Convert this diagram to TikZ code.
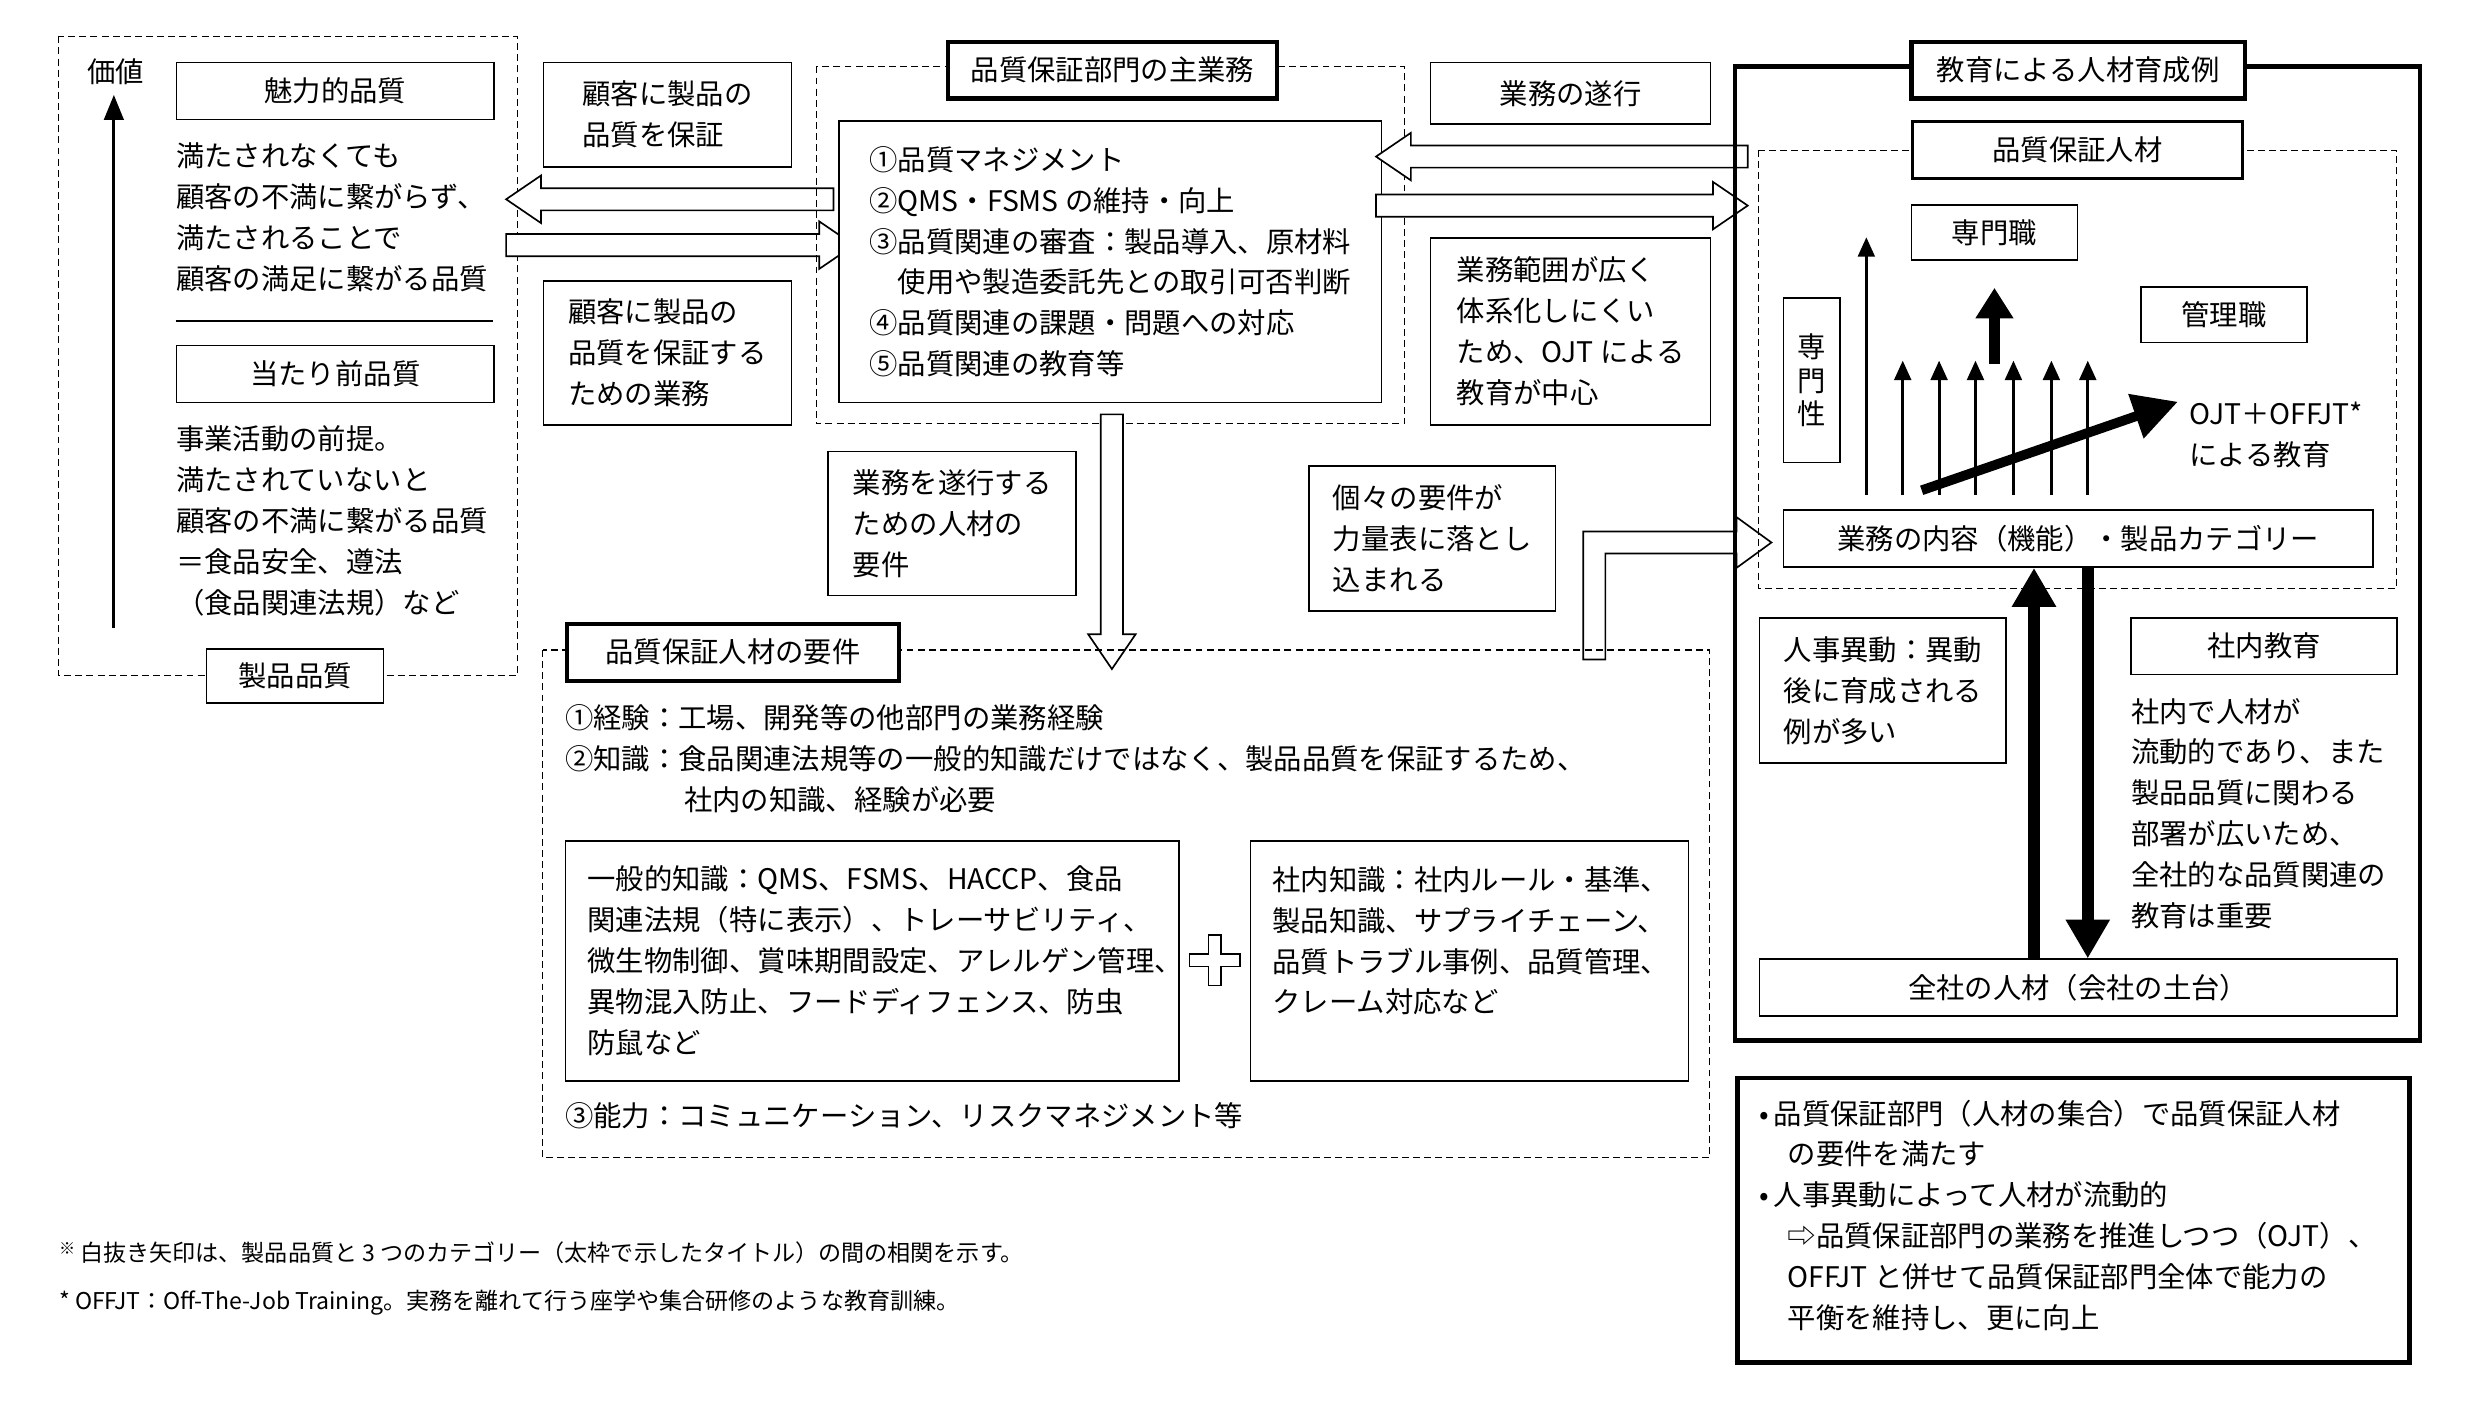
\documentclass[tikz,border=0pt]{standalone}
\usepackage{fontspec}
\setmainfont{Noto Sans CJK JP}
\usetikzlibrary{arrows.meta}
\newcommand\bodyfs{\fontsize{10.2}{14.7}\selectfont}
\newcommand\notefs{\fontsize{8.3}{10}\selectfont}
% hollow arrows: horizontal (y, x-from, x-to) and vertical (x, y-from, y-to)
\newcommand\hollowh[3]{%
  \pgfmathsetmacro\hs{(#3>#2)?1:-1}%
  \pgfmathsetmacro\hb{#3-\hs*22}%
  \draw[hollow] (#2,#1-7) -- (\hb,#1-7) -- (\hb,#1-15) -- (#3,#1) -- (\hb,#1+15) -- (\hb,#1+7) -- (#2,#1+7) -- cycle;}
\newcommand\hollowv[3]{%
  \pgfmathsetmacro\hs{(#3>#2)?1:-1}%
  \pgfmathsetmacro\hb{#3-\hs*22}%
  \draw[hollow] (#1-7,#2) -- (#1-7,\hb) -- (#1-15,\hb) -- (#1,#3) -- (#1+15,\hb) -- (#1+7,\hb) -- (#1+7,#2) -- cycle;}
\tikzset{
  box/.style={draw, line width=0.6pt, fill=white, anchor=north west, font=\bodyfs, align=left, inner sep=0pt},
  ttl/.style={box, line width=1.6pt, align=center},
  txt/.style={anchor=north west, inner sep=0pt, font=\bodyfs, align=left},
  dashbox/.style={draw, dashed, line width=0.4pt, dash pattern=on 2.5pt off 1.5pt},
  hollow/.style={draw, line width=0.6pt, fill=white, line join=miter},
  thin/.style={line width=1.1pt, -{Triangle[width=6pt,length=7pt]}},
}
\begin{document}
\begin{tikzpicture}[x=0.02cm, y=-0.02cm]
  \useasboundingbox (0,0) rectangle (1568,888);

  % left: product quality
  \draw[dashbox] (37,23) rectangle (327,427);
  \node[txt] (value) at (55,37) {価値};
  \draw[line width=1.1pt, -{Triangle[width=7pt,length=9pt]}] (72,397) -- (72,60);
  \node[ttl, line width=0.6pt, minimum width=4.02cm, minimum height=0.72cm] (attr) at (111,39) {魅力的品質};
  \node[txt] (attrtext) at (111,90) {満たされなくても\\顧客の不満に繋がらず、\\満たされることで\\顧客の満足に繋がる品質};
  \draw[line width=0.5pt] (111,203) -- (312,203);
  \node[ttl, line width=0.6pt, minimum width=4.02cm, minimum height=0.72cm] (must) at (111,218) {当たり前品質};
  \node[txt] (musttext) at (111,269) {事業活動の前提。\\満たされていないと\\顧客の不満に繋がる品質\\＝食品安全、遵法\\（食品関連法規）など};
  \node[ttl, line width=0.6pt, minimum width=2.24cm, minimum height=0.68cm] (prodq) at (130,410) {製品品質};

  \node[box, minimum width=3.14cm, minimum height=1.32cm] (assure) at (343,39) {顧客に製品の\\品質を保証};
  \node[box, minimum width=3.14cm, minimum height=1.82cm] (assurework) at (343,177) {顧客に製品の\\品質を保証する\\ための業務};
  \hollowh{126}{527}{320}
  \hollowh{155}{320}{540}

  % centre: main duties
  \draw[dashbox] (516,42) rectangle (888,268);
  \node[ttl, minimum width=4.16cm, minimum height=0.72cm] (dutyttl) at (598,25) {品質保証部門の主業務};
  \node[box, minimum width=6.86cm, minimum height=3.56cm] (duties) at (530,76) {①品質マネジメント\\②QMS・FSMS の維持・向上\\③品質関連の審査：製品導入、原材料\\\hspace{1em}使用や製造委託先との取引可否判断\\④品質関連の課題・問題への対応\\⑤品質関連の教育等};
  \hollowv{703}{262}{423}
  \node[box, minimum width=3.14cm, minimum height=1.82cm] (needs) at (523,285) {業務を遂行する\\ための人材の\\要件};
  \node[box, minimum width=3.12cm, minimum height=1.84cm] (sheet) at (827,294) {個々の要件が\\力量表に落とし\\込まれる};
  \draw[hollow] (1001,417) -- (1001,336) -- (1098,336) -- (1098,327) -- (1120,343) -- (1098,359) -- (1098,350) -- (1015,350) -- (1015,417) -- cycle;

  \node[box, minimum width=3.54cm, minimum height=0.78cm] (exec) at (904,39) {業務の遂行};
  \hollowh{99}{1105}{870}
  \hollowh{130}{870}{1105}
  \node[box, minimum width=3.54cm, minimum height=2.36cm] (scope) at (904,150) {業務範囲が広く\\体系化しにくい\\ため、OJT による\\教育が中心};

  % bottom: requirements
  \draw[dashbox] (343,411) rectangle (1081,732);
  \node[ttl, minimum width=4.2cm, minimum height=0.72cm] (reqttl) at (357,393) {品質保証人材の要件};
  \node[txt] (req) at (357,445) {①経験：工場、開発等の他部門の業務経験\\②知識：食品関連法規等の一般的知識だけではなく、製品品質を保証するため、\\\hspace{4.2em}社内の知識、経験が必要};
  \node[box, text width=7.2cm, inner xsep=0.28cm, minimum height=3.04cm] (general) at (357,531) {一般的知識：QMS、FSMS、HACCP、食品\\関連法規（特に表示）、トレーサビリティ、\\微生物制御、賞味期間設定、アレルゲン管理、\\異物混入防止、フードディフェンス、防虫\\防鼠など};
  \draw[hollow] (764,591) -- (772,591) -- (772,603) -- (784,603) -- (784,611) -- (772,611) -- (772,623) -- (764,623) -- (764,611) -- (752,611) -- (752,603) -- (764,603) -- cycle;
  \node[box, text width=4.98cm, inner xsep=0.28cm, inner ysep=0.32cm, minimum height=3.04cm, anchor=north west] (inhouse) at (790,531) {社内知識：社内ルール・基準、\\製品知識、サプライチェーン、\\品質トラブル事例、品質管理、\\クレーム対応など\\ \vphantom{あ}};
  \node[txt] (ability) at (357,697) {③能力：コミュニケーション、リスクマネジメント等};

  % right: education
  \draw[line width=1.6pt] (1097,42) rectangle (1530,658);
  \node[ttl, minimum width=4.22cm, minimum height=0.72cm] (eduttl) at (1207,25) {教育による人材育成例};
  \draw[dashbox] (1112,95) rectangle (1515,372);
  \node[ttl, line width=1.1pt, minimum width=4.18cm, minimum height=0.72cm] (qaperson) at (1208,76) {品質保証人材};
  \node[ttl, line width=0.6pt, minimum width=2.1cm, minimum height=0.7cm] (spec) at (1208,129) {専門職};
  \node[ttl, line width=0.6pt, minimum width=2.1cm, minimum height=0.7cm] (mgr) at (1353,181) {管理職};
  \node[ttl, line width=0.6pt, minimum width=0.72cm, minimum height=2.08cm, font=\fontsize{10.2}{12}\selectfont] (expert) at (1127,188) {専\\門\\性};
  \draw[thin] (1180,313) -- (1180,150);
  \foreach \x in {1203,1226,1249,1273,1297,1320}
    \draw[thin] (\x,313) -- (\x,228);
  \draw[line width=4pt, -{Triangle[width=13pt,length=11pt]}] (1261,230) -- (1261,182);
  \draw[line width=3.5pt, -{Triangle[width=16pt,length=16pt]}] (1215,310) -- (1377,254);
  \node[txt] (ojt) at (1384,254) {OJT＋OFFJT*\\による教育};
  \node[ttl, line width=0.6pt, minimum width=7.46cm, minimum height=0.72cm] (cat) at (1127,322) {業務の内容（機能）・製品カテゴリー};
  \node[box, minimum width=3.12cm, minimum height=1.84cm] (transfer) at (1112,390) {人事異動：異動\\後に育成される\\例が多い};
  \node[ttl, line width=0.6pt, minimum width=3.36cm, minimum height=0.72cm] (inedu) at (1347,390) {社内教育};
  \node[txt] (inedutext) at (1347,441) {社内で人材が\\流動的であり、また\\製品品質に関わる\\部署が広いため、\\全社的な品質関連の\\教育は重要};
  \node[ttl, line width=0.6pt, minimum width=8.06cm, minimum height=0.72cm] (base) at (1112,606) {全社の人材（会社の土台）};
  \draw[line width=4.5pt, -{Triangle[width=15pt,length=14pt]}] (base.north -| 1286,0) -- (cat.south -| 1286,0);
  \draw[line width=4.5pt, -{Triangle[width=15pt,length=14pt]}] (cat.south -| 1320,0) -- (base.north -| 1320,0);

  % summary
  \node[box, line width=1.6pt, minimum width=8.5cm, minimum height=3.6cm, anchor=north west] (summary) at (1097,680) {};
  \node[txt] (sumtext) at (1112,695) {•\,品質保証部門（人材の集合）で品質保証人材\\\hspace{1em}の要件を満たす\\•\,人事異動によって人材が流動的\\\hspace{1em}⇨品質保証部門の業務を推進しつつ（OJT）、\\\hspace{1em}OFFJT と併せて品質保証部門全体で能力の\\\hspace{1em}平衡を維持し、更に向上};

  % notes
  \node[txt, font=\notefs] (note1) at (37,785) {\textsuperscript{※}\,白抜き矢印は、製品品質と 3 つのカテゴリー（太枠で示したタイトル）の間の相関を示す。};
  \node[txt, font=\notefs] (note2) at (37,815) {* OFFJT：Off-The-Job Training。実務を離れて行う座学や集合研修のような教育訓練。};
\end{tikzpicture}
\end{document}
